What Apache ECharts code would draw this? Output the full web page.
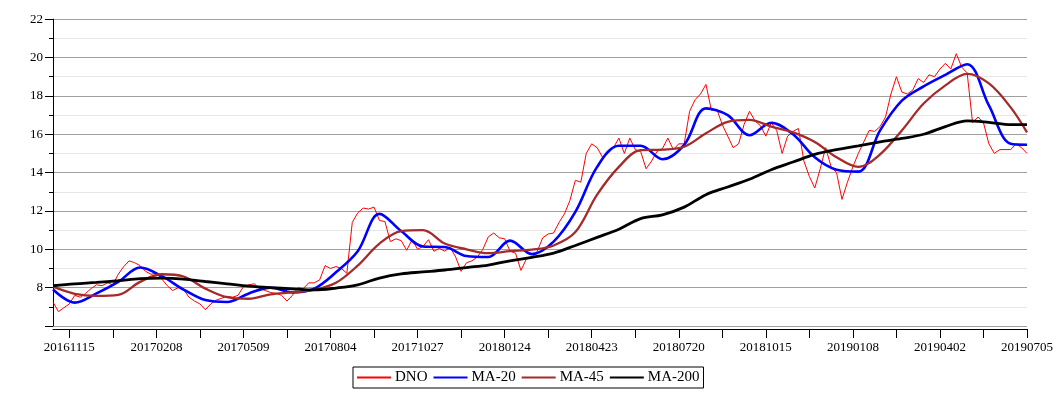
<!DOCTYPE html>
<html>
<head>
<meta charset="utf-8">
<script src="https://cdn.jsdelivr.net/npm/echarts@6/dist/echarts.min.js"></script>
<style>html,body{margin:0;padding:0;background:#fff}#c{width:1060px;height:400px}</style>
</head>
<body>
<div id="c"></div>
<script>
// Trading dates (approximate, one point per ~4 trading days)
const categories = [
'20161031','20161104','20161110','20161115','20161121','20161125','20161130','20161206','20161209','20161215','20161221','20161228','20170103','20170106','20170112','20170118','20170124','20170127','20170202','20170208',
'20170214','20170217','20170223','20170301','20170306','20170310','20170316','20170322','20170327','20170331','20170406','20170412','20170420','20170426','20170503','20170509',
'20170515','20170519','20170525','20170531','20170606','20170609','20170615','20170621','20170627','20170630','20170707','20170713','20170719','20170724','20170728','20170804',
'20170810','20170815','20170821','20170824','20170830','20170905','20170911','20170914','20170920','20170926','20170929','20171005','20171011','20171016','20171020','20171027',
'20171102','20171107','20171113','20171117','20171123','20171129','20171205','20171208','20171214','20171220','20171228','20180103','20180108','20180112','20180118','20180124',
'20180130','20180202','20180208','20180214','20180220','20180223','20180301','20180307','20180313','20180316','20180322','20180328','20180405','20180411','20180417','20180423',
'20180427','20180503','20180509','20180515','20180518','20180524','20180530','20180605','20180608','20180614','20180620','20180626','20180629','20180706','20180712','20180720',
'20180726','20180731','20180806','20180809','20180815','20180821','20180827','20180830','20180904','20180910','20180913','20180919','20180925','20181001','20181009','20181015',
'20181019','20181025','20181031','20181105','20181109','20181115','20181121','20181127','20181130','20181206','20181212','20181218','20181221','20181228','20190103','20190108',
'20190114','20190117','20190123','20190129','20190201','20190207','20190213','20190219','20190222','20190228','20190306','20190311','20190315','20190321','20190327','20190402',
'20190408','20190412','20190418','20190426','20190502','20190508','20190514','20190520','20190524','20190530','20190605','20190611','20190617','20190621','20190627','20190705'
];
const tickLabels = ['20161115','20170208','20170509','20170804','20171027','20180124','20180423','20180720','20181015','20190108','20190402','20190705'];

const dno = [
7.25,6.75,6.95,7.15,7.6,7.5,7.7,7.95,8.15,8.1,8.25,8.15,8.7,9.1,9.4,9.3,9.15,8.85,8.7,8.75,
8.45,8.1,7.85,8.0,7.9,7.5,7.3,7.15,6.85,7.15,7.35,7.45,7.55,7.5,7.6,8.05,
8.15,8.2,7.95,7.85,7.75,7.7,7.6,7.3,7.6,8.0,7.95,8.25,8.25,8.4,9.15,9.0,
9.1,9.0,8.75,11.4,11.9,12.15,12.1,12.2,11.5,11.45,10.4,10.55,10.45,9.95,10.5,10.0,
10.15,10.5,9.9,10.05,9.9,10.1,9.6,8.85,9.3,9.4,9.6,10.0,10.65,10.85,10.6,10.55,
9.9,9.8,8.9,9.5,9.55,9.9,10.6,10.8,10.85,11.4,11.85,12.55,13.6,13.5,15.0,15.5,
15.3,14.8,15.0,15.3,15.8,15.0,15.8,15.2,15.1,14.2,14.6,15.1,15.25,15.8,15.2,15.5,
15.5,17.2,17.8,18.1,18.6,17.25,17.3,16.5,15.9,15.3,15.5,16.5,17.2,16.7,16.45,15.9,
16.6,16.2,15.0,15.9,16.15,16.3,14.6,13.8,13.2,14.2,15.3,14.3,14.0,12.6,13.5,14.3,
15.0,15.6,16.2,16.15,16.4,16.9,18.1,19.0,18.2,18.1,18.3,18.9,18.7,19.1,19.0,19.4,
19.7,19.4,20.2,19.5,19.2,16.6,16.9,16.6,15.5,15.0,15.2,15.2,15.2,15.5,15.3,15.0
];

// Moving averages read at a sparser set of dates
const maDates = ['20161031','20161121','20161209','20170103','20170124','20170214','20170306','20170327','20170420','20170515','20170606','20170627','20170719','20170810','20170830','20170920','20171011','20171102','20171123','20171214','20180108','20180130','20180220','20180313','20180405','20180427','20180518','20180608','20180629','20180726','20180815','20180904','20180925','20181019','20181109','20181130','20181221','20190114','20190201','20190222','20190315','20190408','20190502','20190524','20190617','20190705'];
const ma20 = [7.9,7.22,7.7,8.3,9.05,8.6,7.9,7.35,7.25,7.7,8.0,7.75,7.95,8.8,9.9,11.85,10.95,10.15,10.12,9.65,9.6,10.45,9.75,10.4,11.95,14.3,15.4,15.4,14.7,15.45,17.35,17.0,15.95,16.6,16.0,14.8,14.15,14.05,16.2,17.75,18.5,19.1,19.65,17.5,15.5,15.45];
const ma45 = [8.05,7.68,7.57,7.62,8.3,8.7,8.58,7.95,7.5,7.42,7.65,7.75,7.88,8.25,9.15,10.3,10.95,11.0,10.3,10.0,9.8,9.9,9.98,10.2,10.9,12.85,14.3,15.17,15.2,15.35,16.05,16.65,16.75,16.4,16.1,15.6,14.8,14.3,14.95,16.2,17.6,18.55,19.15,18.65,17.4,16.1];
const ma200 = [8.1,8.2,8.27,8.36,8.47,8.5,8.45,8.32,8.2,8.08,8.0,7.94,7.88,7.98,8.15,8.5,8.72,8.82,8.92,9.05,9.18,9.4,9.58,9.8,10.2,10.62,11.05,11.6,11.8,12.2,12.85,13.25,13.65,14.15,14.55,14.95,15.2,15.4,15.6,15.78,16.0,16.4,16.7,16.62,16.5,16.5];

const FONT = 'Liberation Serif';
const chart = echarts.init(document.getElementById('c'), null, {renderer: 'canvas'});
const maSeries = (name, arr, color, width) => ({
  name, type: 'line', data: maDates.map((d, i) => [d, arr[i]]),
  symbol: 'none', smooth: 0.35, lineStyle: {color, width}, itemStyle: {color}
});
chart.setOption({
  animation: false,
  backgroundColor: '#fff',
  grid: {left: 53, right: 33, top: 19.2, bottom: 74, containLabel: false},
  legend: {
    left: 353, top: 367, orient: 'horizontal',
    data: ['DNO', 'MA-20', 'MA-45', 'MA-200'],
    itemWidth: 34, itemHeight: 14, itemGap: 5,
    padding: [3, 4, 3, 3],
    borderColor: '#000', borderWidth: 1,
    itemStyle: {opacity: 0},
    textStyle: {fontFamily: FONT, fontSize: 15, color: '#000', padding: [0, 0, 0, -1]}
  },
  xAxis: {
    type: 'category', data: categories, boundaryGap: false, offset: 3,
    axisLine: {lineStyle: {color: '#000', width: 1}},
    axisTick: {show: true, length: 9, lineStyle: {color: '#000'},
      interval: (idx) => (idx - 3) % 8 === 0},
    axisLabel: {fontFamily: FONT, fontSize: 13, color: '#000', margin: 12,
      interval: (idx, val) => tickLabels.indexOf(val) >= 0},
    splitLine: {show: false}
  },
  yAxis: {
    type: 'value', min: 6, max: 22, interval: 2,
    axisLine: {show: true, lineStyle: {color: '#000', width: 1}},
    axisTick: {show: true, length: 8, lineStyle: {color: '#000'}},
    minorTick: {show: true, splitNumber: 2, length: 4, lineStyle: {color: '#000'}},
    axisLabel: {fontFamily: FONT, fontSize: 13, color: '#000', margin: 10,
      formatter: (v) => v === 6 ? '' : String(v)},
    splitLine: {show: true, lineStyle: {color: '#a0a0a0', width: 1}},
    minorSplitLine: {show: true, lineStyle: {color: '#e6e6e6', width: 1}}
  },
  series: [
    {name: 'DNO', type: 'line', data: dno, symbol: 'none',
      lineStyle: {color: '#ff0000', width: 1}, itemStyle: {color: '#ff0000'}},
    maSeries('MA-20', ma20, '#0000ff', 2.6),
    maSeries('MA-45', ma45, '#a52a2a', 2.3),
    maSeries('MA-200', ma200, '#000000', 2.8)
  ]
});
</script>
</body>
</html>
